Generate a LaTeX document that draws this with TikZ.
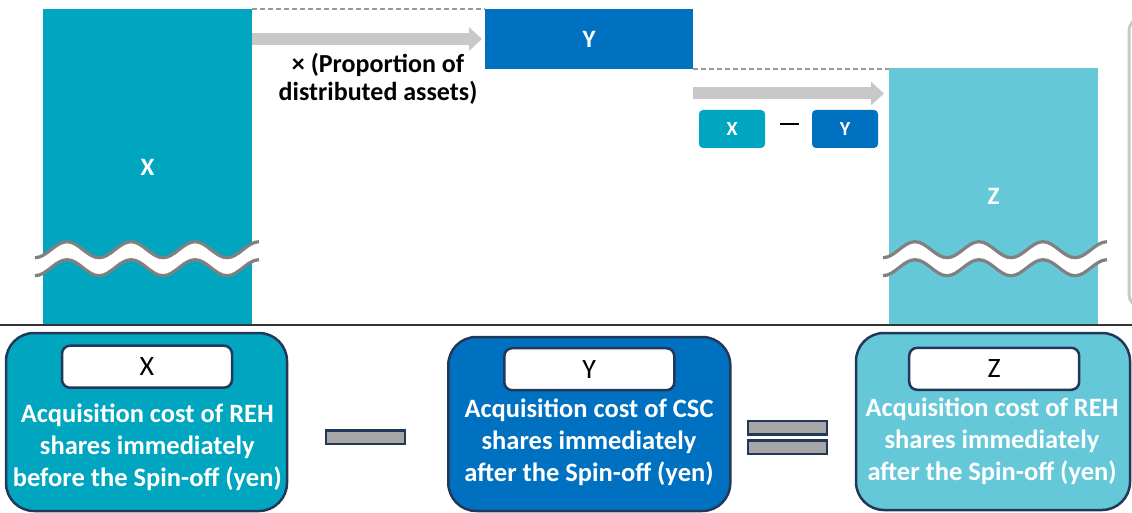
\documentclass[tikz,border=0pt]{standalone}
\usepackage{fontspec}
\setmainfont{Carlito}
\usetikzlibrary{arrows.meta}

\definecolor{reh}{RGB}{0,166,192}
\definecolor{csc}{RGB}{0,112,192}
\definecolor{rehafter}{RGB}{101,200,216}
\definecolor{navy}{RGB}{35,56,88}
\definecolor{arrowgray}{RGB}{200,200,200}
\definecolor{wavegray}{RGB}{128,128,128}
\definecolor{signgray}{RGB}{166,166,166}

\tikzset{
    column/.style={rectangle, inner sep=0pt, outer sep=0pt, text=white, font=\bfseries\fontsize{25}{30}\selectfont},
    minibox/.style={rectangle, rounded corners=4pt, inner sep=0pt, minimum width=66pt, minimum height=38pt, text=white, font=\bfseries\fontsize{20}{22}\selectfont},
    panel/.style={rectangle, rounded corners=28pt, draw=navy, line width=2.5pt, inner sep=0pt},
    tag/.style={rectangle, rounded corners=8pt, draw=navy, line width=2.5pt, fill=white, inner sep=0pt, minimum width=170pt, minimum height=42pt, font=\fontsize{28}{30}\selectfont},
    paneltext/.style={text=white, align=center, font=\bfseries\fontsize{26.5}{32}\selectfont},
    sign/.style={rectangle, fill=signgray, draw=navy, line width=2.5pt, inner sep=0pt, minimum width=79pt, minimum height=13.5pt},
    bigarrow/.style={draw=arrowgray, line width=12pt, -{Triangle[length=13pt,width=23pt]}},
    dashline/.style={draw=gray!80, line width=1.2pt, dash pattern=on 5pt off 3pt}
}

\begin{document}
\begin{tikzpicture}[x=1pt,y=-1pt]
    \useasboundingbox (0,0) rectangle (1132,513);
    \clip (0,0) rectangle (1132,513);
    % cost columns
    \node[column, fill=reh, minimum width=209pt, minimum height=316pt] (Xcol) at (147.5,167) {X};
    \node[column, fill=csc, minimum width=208pt, minimum height=60pt] (Ybox) at (589,39) {Y};
    \node[column, fill=rehafter, minimum width=209pt, minimum height=257pt] (Zcol) at (993.5,196.5) {Z};
    % dashed guides
    \draw[dashline] (Xcol.north east) -- (Ybox.north west);
    \draw[dashline] (Ybox.south east) -- (Ybox.south east -| Zcol.west);
    % arrows
    \draw[bigarrow] (Xcol.east |- Ybox.west) -- ([xshift=-3pt]Ybox.west);
    \coordinate (turn) at (693,93.5);
    \draw[bigarrow] (turn) -- ([xshift=-5pt]turn -| Zcol.west);
    \node[font=\bfseries\fontsize{26}{28.5}\selectfont, align=center] (ratio) at (378,79) {× (Proportion of\\distributed assets)};
    \node[minibox, fill=reh] (sX) at (732,129) {X};
    \node[minibox, fill=csc] (sY) at (845,129) {Y};
    \draw[line width=2pt] (780,124) -- (799,124);
    % break marks
    \foreach \wx in {35,883}{
        \fill[white] (\wx,257.7) \foreach \i in {1,2,3}{cos ++(16,-8) sin ++(16,-8) cos ++(16,8) sin ++(16,8)} cos ++(16,-8) sin ++(16,-8)
            -- ++(0,18) \foreach \i in {1,2,3}{cos ++(-16,8) sin ++(-16,8) cos ++(-16,-8) sin ++(-16,-8)} cos ++(-16,8) sin ++(-16,8) -- cycle;
        \foreach \dy in {0,18}
            \draw[wavegray, line width=3.2pt] (\wx,257.7+\dy) \foreach \i in {1,2,3}{cos ++(16,-8) sin ++(16,-8) cos ++(16,8) sin ++(16,8)} cos ++(16,-8) sin ++(16,-8);
    }
    %\draw[arrowgray] (0,0) grid (1132,513);
    \draw[arrowgray, line width=3pt, rounded corners=14pt] (1129,17) rectangle (1170,308);
    \draw[line width=1.3pt, black!80] (0,325) -- (1132,325);
    % formula panels
    \node[panel, fill=reh, minimum width=281pt, minimum height=178pt] (Xpanel) at (146.5,422) {};
    \node[panel, fill=csc, minimum width=282pt, minimum height=174pt] (Ypanel) at (589.3,424) {};
    \node[panel, fill=rehafter, minimum width=274pt, minimum height=177pt] (Zpanel) at (993,421.5) {};
    \node[tag] (Xtag) at (147,366.7) {X};
    \node[tag] (Ytag) at (589.3,369.2) {Y};
    \node[tag] (Ztag) at (994.2,368.8) {Z};
    \node[paneltext] (Xtext) at (147.3,447.5) {Acquisition cost of REH\\shares immediately\\before the Spin-off (yen)};
    \node[paneltext] (Ytext) at (589,442) {Acquisition cost of CSC\\shares immediately\\after the Spin-off (yen)};
    \node[paneltext] (Ztext) at (992,441) {Acquisition cost of REH\\shares immediately\\after the Spin-off (yen)};
    \node[sign] (minus) at (365.5,437) {};
    \node[sign] (eqtop) at (787.7,427.7) {};
    \node[sign] (eqbot) at (787.7,447.4) {};
\end{tikzpicture}
\end{document}
